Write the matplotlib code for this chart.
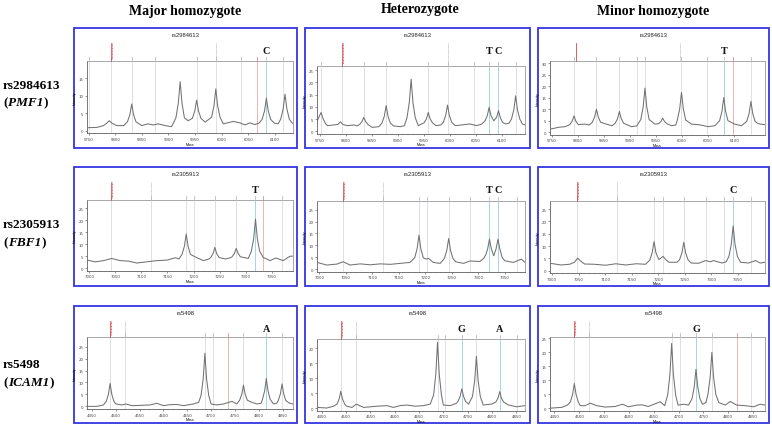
import matplotlib
matplotlib.use("Agg")
import matplotlib.pyplot as plt
import matplotlib.transforms as mtrans
from matplotlib.patches import Rectangle

W, H = 772, 431

col_titles = ["Major homozygote", "Heterozygote", "Minor homozygote"]
snp_ids = ["rs2984613", "rs2305913", "rs5498"]
gene_names = ["PMF1", "FBF1", "ICAM1"]

# ---------------- spectra (mass, intensity) ----------------
r1c1 = [(5747,0.8),(5766,0.9),(5778,1.4),(5784,2.1),(5789,2.8),(5794,2.1),(5803,1.4),(5816,1.4),
        (5823,2.5),(5827.5,4.5),(5831,7.6),(5834.5,4.5),(5839,2.5),
        (5850,1.4),(5861,1.9),(5872,1.6),(5881,1.9),(5894,1.4),(5906,1.1),
        (5914,3.6),(5918.5,7.8),(5922,14.0),(5925.5,7.8),(5930,3.6),(5937,2.8),
        (5945,3.5),(5949.5,5.6),(5953,8.7),(5956.5,5.6),(5961,3.5),(5969,2.4),
        (5981,3.8),(5985.5,7.0),(5989,11.9),(5992.5,7.0),(5997,3.8),
        (6003,1.9),(6022,2.6),(6034,2.2),(6044,1.6),(6053,2.2),(6062,1.7),(6070,2.1),
        (6076,3.2),(6080.5,5.6),(6084,9.3),(6087.5,5.6),(6092,3.2),(6099,2.1),(6106,1.9),
        (6111,3.3),(6115.5,6.2),(6119,10.4),(6122.5,6.2),(6127,3.3),(6131,2.4),(6134,2.0)]
r1c2 = [(5745,4.0),(5749,6.0),(5753,7.7),(5756.5,5.2),(5761,3.3),(5765,2.3),(5777,2.6),
        (5785,2.8),(5790,3.9),(5795,2.8),(5803,2.3),(5816,2.6),(5822,2.2),
        (5827,2.8),(5831.5,4.0),(5835,5.7),(5838.5,4.0),(5843,2.8),(5851,1.6),(5864,1.9),
        (5870,3.4),(5874.5,6.2),(5878,10.5),(5881.5,6.2),(5886,3.4),(5892,2.2),(5905,1.9),(5913,2.3),
        (5918,5.5),(5922.5,11.8),(5926,21.3),(5929.5,11.8),(5934,5.5),(5940,2.3),(5946,3.0),
        (5951,3.5),(5955.5,5.1),(5959,7.7),(5962.5,5.1),(5967,3.5),(5974,2.3),(5983,2.6),
        (5988,3.7),(5992.5,6.5),(5996,10.7),(5999.5,6.5),(6004,3.7),
        (6011,2.3),(6027,2.7),(6039,3.0),(6052,2.3),(6062,3.0),
        (6068,4.2),(6072.5,6.4),(6076,9.8),(6079.5,6.4),(6085,4.3),(6090.5,5.8),(6094,8.4),(6097.5,5.6),(6102,3.6),
        (6108,3.0),(6114,3.3),(6119,5.0),(6123.5,8.8),(6127,14.5),(6130.5,8.8),(6135,5.0),(6140,3.0),(6145,2.6)]
r1c3 = [(5747,1.4),(5763,2.2),(5776,2.5),
        (5785,3.4),(5789.5,4.9),(5793,7.2),(5796.5,4.9),(5801,3.4),(5814,3.6),(5822,3.2),
        (5828,4.4),(5832.5,6.7),(5836,10.1),(5839.5,6.7),(5844,4.4),(5855,3.6),(5866,2.9),
        (5872,4.0),(5876.5,6.0),(5880,9.1),(5883.5,6.0),(5888,4.0),(5903,2.5),(5913,2.8),
        (5921,5.6),(5925.5,11.0),(5929,19.3),(5932.5,11.0),(5937,5.6),(5948,3.6),
        (5955,3.8),(5959.5,4.7),(5963,6.2),(5966.5,4.7),(5971,3.8),(5980,2.9),(5988,3.2),
        (5991,5.4),(5995.5,10.2),(5999,17.4),(6002.5,10.2),(6007,5.4),
        (6018,3.6),(6034,3.3),(6050,2.5),(6063,2.9),
        (6072,5.1),(6076.5,9.1),(6080,15.2),(6083.5,9.1),(6088,5.1),(6101,3.6),(6114,2.9),
        (6124,4.8),(6128.5,8.2),(6132,13.5),(6135.5,8.2),(6140,4.8),(6145,3.9),(6150,3.6),(6159,3.4)]
r2c1 = [(6996,3.3),(7011,2.6),(7027,3.1),(7043,4.0),(7059,3.1),(7075,2.9),(7091,2.1),(7110,2.6),
        (7130,3.1),(7149,3.3),(7165,4.3),(7172,3.8),
        (7178,5.7),(7182.5,9.1),(7186,14.2),(7189.5,9.1),(7194,5.7),(7203,4.7),(7219,3.1),(7230,3.8),
        (7233,4.4),(7237.5,6.0),(7241,8.6),(7244.5,6.0),(7249,4.4),(7261,3.8),(7270,4.2),
        (7274,4.7),(7278.5,6.1),(7282,8.2),(7285.5,6.1),(7290,4.7),(7297,4.4),(7305,4.0),
        (7311,7.0),(7315.5,12.3),(7319,20.4),(7322.5,12.3),(7327,7.0),
        (7334,4.4),(7347,3.1),(7358,4.2),(7372,3.1),(7385,4.9),(7391,5.0)]
r2c2 = [(6996,2.8),(7014,1.7),(7033,2.1),(7045,3.1),(7058,1.7),(7077,2.2),(7096,1.8),(7115,2.2),
        (7134,2.0),(7152,2.4),(7171,2.8),
        (7180,4.8),(7184.5,8.6),(7188,14.3),(7191.5,8.6),(7196,4.8),(7201,4.2),(7206,4.5),(7215,2.8),(7228,2.4),
        (7236,4.5),(7240.5,7.9),(7244,12.9),(7247.5,7.9),(7252,4.5),
        (7257,3.1),(7272,2.4),(7284,3.4),(7303,3.2),(7310,4.5),
        (7314,6.0),(7317.5,8.5),(7321,12.6),(7324.5,8.5),(7329,5.6),(7333.5,8.5),(7337,12.6),(7340.5,8.5),(7345,4.8),
        (7350,3.5),(7366,2.8),(7381,4.2),(7388,2.8)]
r2c3 = [(6996,3.0),(7017,2.3),(7033,2.6),(7042,3.4),(7045,4.2),(7048,5.1),(7052,4.2),(7061,2.7),
        (7079,2.6),(7101,2.2),(7120,2.8),(7139,2.3),(7158,2.8),(7176,2.6),
        (7184,4.3),(7188.5,7.3),(7192,11.8),(7195.5,7.3),(7201,4.5),(7209,5.8),(7214,4.5),(7220,3.4),(7235,3.4),
        (7240,4.4),(7244.5,7.2),(7248,11.5),(7251.5,7.2),(7256,4.4),
        (7262,3.1),(7276,3.0),(7289,4.1),(7298,3.6),(7304,4.1),(7320,3.1),(7328,3.6),
        (7333,5.8),(7337.5,10.7),(7341,18.2),(7344.5,10.7),(7349,5.8),
        (7355,3.4),(7370,3.1),(7383,4.1),(7392,3.1),(7401,3.4)]
r3c1 = [(4440,0.0),(4460,0.0),(4474,0.6),
        (4480,2.1),(4484.5,5.1),(4488,9.6),(4491.5,5.1),(4496,2.1),
        (4500,1.0),(4513,0.6),(4521,1.0),(4534,0.3),(4551,0.4),(4572,0.6),(4586,1.3),(4600,0.3),
        (4614,0.7),(4628,0.8),(4642,0.3),(4663,1.0),(4674,1.7),
        (4679,4.6),(4683.5,11.6),(4687,22.2),(4690.5,11.6),(4695,4.6),
        (4700,1.0),(4712,0.6),(4726,1.0),(4744,2.1),(4754,1.0),
        (4760,2.6),(4764.5,5.1),(4768,8.9),(4771.5,5.1),(4776,2.6),(4782,2.0),(4796,1.0),(4805,1.3),
        (4808,3.0),(4812.5,6.5),(4816,11.7),(4819.5,6.5),(4824,3.0),(4831,1.0),(4838,1.3),
        (4841,2.4),(4845.5,5.2),(4849,9.4),(4852.5,5.2),(4857,2.4),(4865,1.3),(4872,1.0)]
r3c2 = [(4441,0.2),(4460,0.0),(4474,0.6),
        (4481,1.3),(4485.5,3.0),(4489,5.6),(4492.5,3.0),(4497,1.3),
        (4501,0.6),(4512,0.2),(4521,1.3),(4536,0.2),(4563,0.6),(4584,0.8),(4597,0.2),(4611,0.8),
        (4625,1.0),(4642,0.6),(4659,0.8),(4673,1.3),
        (4680,4.4),(4684.5,11.4),(4688,22.0),(4691.5,11.4),(4696,4.4),(4700,1.0),(4714,0.8),(4727,1.6),
        (4730,2.2),(4734.5,3.9),(4738,6.4),(4741.5,3.9),(4746,2.2),(4752,1.3),
        (4760,3.9),(4764.5,9.2),(4768,17.3),(4771.5,9.2),(4776,3.9),(4782,1.0),(4799,1.3),
        (4808,2.0),(4812.5,3.3),(4816,5.5),(4819.5,3.3),(4824,2.0),(4834,1.0),(4851,0.4),(4868,0.8)]
r3c3 = [(4441,0.1),(4465,0.4),(4476,1.2),
        (4482,2.3),(4486.5,5.0),(4490,8.9),(4493.5,5.0),(4498,2.3),
        (4502,1.0),(4512,1.0),(4522,1.9),(4535,1.0),(4552,0.5),(4572,0.7),(4587,1.5),(4599,0.6),
        (4616,1.2),(4626,1.3),(4639,0.7),(4663,2.4),(4672,1.0),
        (4678,4.8),(4682.5,12.1),(4686,23.2),(4689.5,12.1),(4694,4.8),(4699,1.2),(4710,1.5),(4720,1.2),
        (4727,3.5),(4731.5,7.7),(4735,14.0),(4738.5,7.7),(4743,3.5),(4748,1.5),(4755,2.1),
        (4759,5.0),(4763.5,11.0),(4767,20.0),(4770.5,11.0),(4775,5.0),
        (4781,2.1),(4794,1.2),(4804,2.5),(4817,1.2),(4834,1.0),(4851,0.6),(4864,1.5),(4874,1.2)]

# marker lines (expected masses) per panel
lines_r1 = [[5751, 5792, 5831, 5875, 5953, 5989, 6037, 6067, 6084, 6116],
            [5753, 5793, 5835, 5878, 5959, 5996, 6046, 6076, 6094, 6127],
            [5793, 5836, 5880, 5913, 5929, 5998, 6047, 6080, 6097, 6132]]
lines_r2 = [[7042, 7118, 7186, 7201, 7241, 7282, 7319, 7334, 7369],
            [7045, 7120, 7188, 7203, 7244, 7284, 7321, 7337, 7372],
            [7047, 7123, 7192, 7208, 7248, 7289, 7324, 7341, 7375]]
lines_r3 = [[4488, 4520, 4687, 4704, 4736, 4768, 4816, 4849],
            [4489, 4521, 4688, 4703, 4738, 4768, 4816, 4851],
            [4490, 4520, 4686, 4702, 4735, 4767, 4817, 4846]]
red_tall = [[5792, 5793, 5796], [7042, 7045, 7047], [4488, 4489, 4490]]
gray_tall = [[5989, 5996, 5997], [7118, 7120, 7123], [4520, 4521, 4520]]
alleles_r1 = [[("C", 6084)], [("T", 6076), ("C", 6094)], [("T", 6080)]]
alleles_r2 = [[("T", 7319)], [("T", 7321), ("C", 7337)], [("C", 7341)]]
alleles_r3 = [[("A", 4816)], [("G", 4738), ("A", 4816)], [("G", 4735)]]
absent = [[[6067], [], [6097]], [[7334], [], []], [[4736], [], [4817]]]

xlims = [[(5747, 6134), (5745, 6145), (5747, 6159)],
         [(6995.5, 7391), (6995.6, 7388), (6996, 7401)],
         [(4439.5, 4872), (4440, 4868), (4441, 4874)]]
ylims = [[(-0.8, 20.0), (-1.1, 26.8), (-1.0, 31.2)],
         [(-1.1, 28.5), (-1.1, 28.8), (-0.95, 28.4)],
         [(-1.1, 28.9), (-0.9, 23.1), (-0.8, 25.4)]]
yticks = [[[0, 5, 10, 15], [0, 5, 10, 15, 20, 25], [0, 5, 10, 15, 20, 25, 30]],
          [[0, 5, 10, 15, 20, 25]] * 3,
          [[0, 5, 10, 15, 20, 25], [0, 5, 10, 15, 20], [0, 5, 10, 15, 20, 25]]]
xticks = [[5750, 5800, 5850, 5900, 5950, 6000, 6050, 6100],
          [7000, 7050, 7100, 7150, 7200, 7250, 7300, 7350],
          [4450, 4500, 4550, 4600, 4650, 4700, 4750, 4800, 4850]]

spectra = [[r1c1, r1c2, r1c3], [r2c1, r2c2, r2c3], [r3c1, r3c2, r3c3]]
lines_all = [lines_r1, lines_r2, lines_r3]
alleles_all = [alleles_r1, alleles_r2, alleles_r3]

# ---------------- layout (pixels) ----------------
box_cols = [(74, 297), (305, 530), (538, 769)]
box_rows = [(29, 149), (168, 287), (307, 424)]
ax_lr = [(87, 293), (317, 525), (550, 765)]
ax_tb = [[(61.7, 134.3), (66.7, 135.0), (61.7, 135.7)],
         [(200.7, 271.7), (201.7, 272.7), (201.7, 274.0)],
         [(338.3, 410.0), (340.0, 411.7), (338.3, 411.7)]]

serif = ["Liberation Serif", "DejaVu Serif"]
sans = ["Liberation Sans", "DejaVu Sans"]

fig = plt.figure(figsize=(W / 100, H / 100), dpi=100)
fig.patch.set_facecolor("white")
ov = fig.add_axes([0, 0, 1, 1])
ov.set_xlim(0, W)
ov.set_ylim(H, 0)
ov.axis("off")

col_cx = [185, 420, 653]
col_y = [12, 10, 12]
for t, cx, cy in zip(col_titles, col_cx, col_y):
    ov.text(cx, cy, t, ha="center", va="center", fontsize=10, fontweight="bold", family=serif)

renderer = fig.canvas.get_renderer()
row_label_y = [(86, 103), (225, 243), (365, 383)]
for i in range(3):
    y1, y2 = row_label_y[i]
    ov.text(3, y1, snp_ids[i], ha="left", va="center", fontsize=9.5, fontweight="bold", family=serif)
    x = 3
    for piece, style in (("(", "normal"), (gene_names[i], "italic"), (")", "normal")):
        tt = ov.text(x, y2, piece, ha="left", va="center", fontsize=9.5, fontweight="bold",
                     fontstyle=style, family=serif)
        bbx = tt.get_window_extent(renderer=renderer)
        x += bbx.width + (0.8 if style == "italic" else 0.3)

for i in range(3):
    bt, bb_ = box_rows[i]
    for j in range(3):
        bl, br = box_cols[j]
        ov.add_patch(Rectangle((bl, bt), br - bl, bb_ - bt, fill=False, ec="#3535e0", lw=1.3))
        ov.text((bl + br) / 2, bt + 6.5, snp_ids[i], ha="center", va="center", fontsize=4.2,
                family=sans, color="#222222")

for i in range(3):
    bt, bb_ = box_rows[i]
    for j in range(3):
        l, r = ax_lr[j]
        t, b = ax_tb[i][j]
        ax = fig.add_axes([l / W, 1 - b / H, (r - l) / W, (b - t) / H])
        ax.set_facecolor("white")
        xs = [p[0] for p in spectra[i][j]]
        ys = [p[1] for p in spectra[i][j]]
        allele_masses = [m for _, m in alleles_all[i][j]]
        for m in lines_all[i][j]:
            if m in allele_masses:
                c = "#8fcbd6"
            elif m in absent[i][j]:
                c = "#e6a0a0"
            else:
                c = "#d3d9df"
            ax.axvline(m, color=c, lw=0.55, zorder=1)
        ax.plot(xs, ys, color="#727272", lw=0.75, zorder=3)
        ax.set_xticks(xticks[i])
        ax.set_yticks(yticks[i][j])
        ax.set_xticks([v for v in range(xticks[i][0] - 50, xticks[i][-1] + 60, 10)], minor=True)
        ax.set_xlim(*xlims[i][j])
        ax.set_ylim(*ylims[i][j])
        ax.tick_params(axis="both", which="major", labelsize=2.8, length=1.6, width=0.4, pad=1,
                       colors="#444444")
        ax.tick_params(axis="x", which="minor", length=0.8, width=0.3, colors="#666666")
        for s in ["top", "right"]:
            ax.spines[s].set_color("#9a9a9a")
            ax.spines[s].set_linewidth(0.6)
        for s in ["left", "bottom"]:
            ax.spines[s].set_color("#606060")
            ax.spines[s].set_linewidth(0.6)
        ax.set_ylabel("Intensity", fontsize=2.6, labelpad=1.2, family=sans)
        ax.set_xlabel("Mass", fontsize=2.6, labelpad=0.6, family=sans)

        # header markers above the axes (x in data, y in page pixels)
        tr = mtrans.blended_transform_factory(ax.transData, ov.transData)
        for m in lines_all[i][j]:
            c = "#e08a8a" if m in absent[i][j] else "#bdbdbd"
            ax.plot([m, m], [t - 4, t], transform=tr, clip_on=False, color=c, lw=0.6, zorder=4)
        mr = red_tall[i][j]
        ax.plot([mr, mr], [bt + 15, t], transform=tr, clip_on=False, color="#cc3333", lw=0.5, zorder=4)
        ax.plot([mr + 1.5, mr + 1.5], [bt + 15, t - 2], transform=tr, clip_on=False, color="#d86060",
                lw=0.6, ls=(0, (1.2, 0.6)), zorder=4)
        mg = gray_tall[i][j]
        ax.plot([mg, mg], [bt + 15, t], transform=tr, clip_on=False, color="#b5b5b5", lw=0.5,
                ls=(0, (1.2, 0.6)), zorder=4)
        for lab, m in alleles_all[i][j]:
            ax.text(m, bt + 22.5, lab, transform=tr, ha="center", va="center", fontsize=7.3,
                    fontweight="bold", family=serif, color="#111111", zorder=5)

fig.savefig("out.png", dpi=100)
